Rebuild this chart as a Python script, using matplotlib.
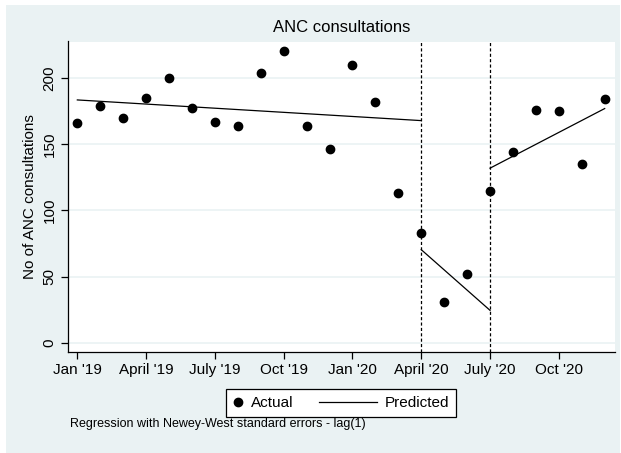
import numpy as np
import matplotlib
matplotlib.use("Agg")
import matplotlib.pyplot as plt
from matplotlib.lines import Line2D
from matplotlib.patches import Rectangle
from matplotlib.legend_handler import HandlerLine2D

plt.rcParams['font.family'] = ['Liberation Sans', 'DejaVu Sans']

# monthly data, Jan 2019 .. Dec 2020 (month index 0..23)
month = np.arange(24)
actual = [166, 179, 170, 185, 200, 177, 167, 164, 204, 220, 164, 146,
          210, 182, 113, 83, 31, 52, 115, 144, 176, 175, 135, 184]

# predicted segments (start/end month, start/end value)
pred_x = [[0, 15], [15, 18], [18, 23]]
pred_y = [[183.4, 167.8], [70.4, 24.6], [131.9, 176.9]]

breaks = [15, 18]
tick_pos = [0, 3, 6, 9, 12, 15, 18, 21]
tick_lab = ["Jan '19", "April '19", "July '19", "Oct '19",
            "Jan '20", "April '20", "July '20", "Oct '20"]

bg = '#EAF2F3'
W, H = 621, 453


class LongLine(HandlerLine2D):
    # line sample that reaches left of its handle box
    def create_artists(self, legend, orig_handle, xdescent, ydescent,
                       width, height, fontsize, trans):
        y = (height - ydescent) / 2.0
        x1 = width - xdescent
        ln = Line2D([x1 - 3.8 * fontsize, x1], [y, y], color='black', lw=0.9)
        ln.set_transform(trans)
        return [ln]


fig = plt.figure(figsize=(W / 100, H / 100), dpi=100, facecolor='white')
fig.patches.append(Rectangle((6 / W, 0), 614 / W, 1 - 5 / H,
                             transform=fig.transFigure, facecolor=bg,
                             edgecolor='none', zorder=-10))

ax = fig.add_axes([67.7 / W, 1 - 351.7 / H, (615 - 67.7) / W, (351.7 - 41.5) / H])
ax.set_facecolor('white')

ax.plot(month, actual, 'o', color='black', ms=6, zorder=3)
for xs, ys in zip(pred_x, pred_y):
    ax.plot(xs, ys, color='black', lw=0.9, zorder=3)
for b in breaks:
    ax.axvline(b, color='black', lw=0.9, ls=(0, (2.5, 1.8)), zorder=2)

ax.set_xlim(-0.42, 23.45)
ax.set_ylim(-6.6, 227.5)
ax.set_yticks([0, 50, 100, 150, 200])
ax.set_xticks(tick_pos)
ax.set_xticklabels(tick_lab)
ax.tick_params(axis='both', labelsize=11, length=5, width=0.9, color='black')
ax.tick_params(axis='x', pad=3)
ax.tick_params(axis='y', pad=3)
for lab in ax.get_yticklabels():
    lab.set_rotation(90)
    lab.set_va('center')
ax.yaxis.grid(True, color=bg, lw=1.2)
ax.set_axisbelow(True)
for s in ['top', 'right']:
    ax.spines[s].set_visible(False)
for s in ['left', 'bottom']:
    ax.spines[s].set_linewidth(0.9)

ax.set_ylabel('No of ANC consultations', fontsize=11, labelpad=4)
ax.set_title('ANC consultations', fontsize=12, pad=7)

h1 = Line2D([], [], marker='o', ls='none', color='black', ms=6)
h2 = Line2D([], [], color='black', lw=0.9)
leg = fig.legend([h1, h2], ['Actual', 'Predicted'], ncol=2, loc='center',
                 bbox_to_anchor=(341 / W, 1 - 403 / H),
                 bbox_transform=fig.transFigure, fontsize=11,
                 handlelength=0.65, handletextpad=0.52, columnspacing=4.84,
                 borderpad=0.45, fancybox=False, framealpha=1,
                 handler_map={h2: LongLine()})
leg.get_frame().set_edgecolor('black')
leg.get_frame().set_linewidth(0.9)

fig.text(70 / W, 1 - 424 / H, 'Regression with Newey-West standard errors - lag(1)',
         fontsize=9, va='center', ha='left')

fig.savefig('out.png', dpi=100, facecolor=fig.get_facecolor())
